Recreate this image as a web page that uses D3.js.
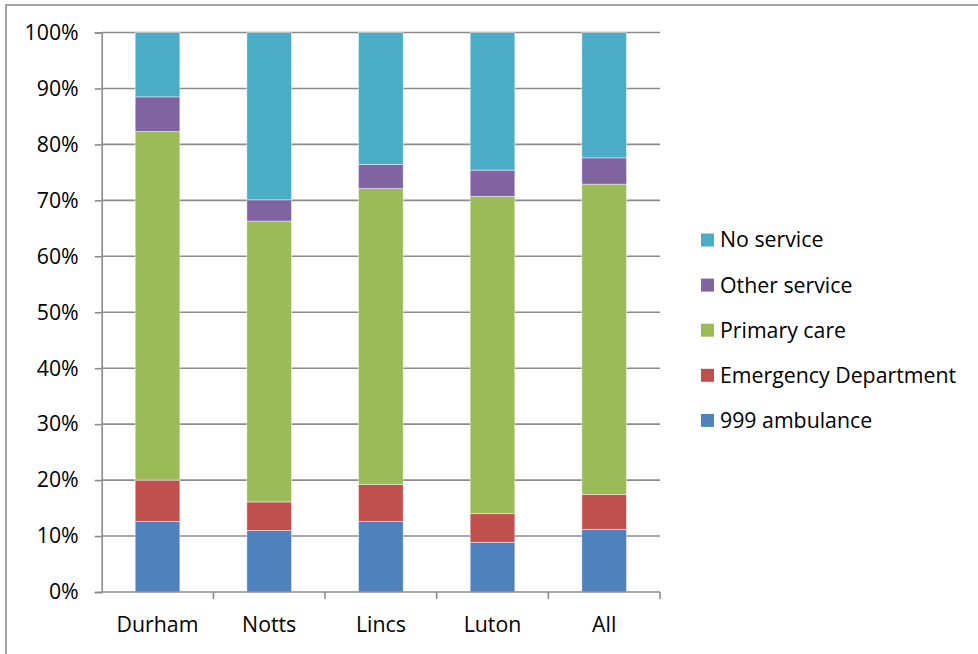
<!DOCTYPE html>
<html>
<head>
<meta charset="utf-8">
<script src="https://cdn.jsdelivr.net/npm/d3@7"></script>
<style>
  html, body { margin: 0; padding: 0; background: #fff; }
  svg { display: block; }
  text { font-family: "Open Sans", Lato, sans-serif; fill: #000; }
</style>
</head>
<body>
<svg id="chart" width="978" height="654"></svg>
<script>
// Share of callers by where they went next, per area
const categories = ["Durham", "Notts", "Lincs", "Luton", "All"];
const seriesNames = ["999 ambulance", "Emergency Department", "Primary care", "Other service", "No service"];
const ambulance   = [12.6, 11.0, 12.6,  8.9, 11.2];
const emergency   = [ 7.4,  5.1,  6.6,  5.1,  6.2];
const primaryCare = [62.3, 50.2, 52.9, 56.7, 55.5];
const otherSvc    = [ 6.2,  3.8,  4.3,  4.7,  4.7];
const noService   = [11.5, 29.9, 23.6, 24.6, 22.4];
const yTicks = [0, 10, 20, 30, 40, 50, 60, 70, 80, 90, 100];
const colors = ["#4F81BD", "#C0504D", "#9BBB59", "#8064A2", "#4BACC6"];

const seriesValues = [ambulance, emergency, primaryCare, otherSvc, noService];
const rows = categories.map((c, i) => {
  const r = { category: c };
  seriesNames.forEach((s, k) => { r[s] = seriesValues[k][i]; });
  return r;
});

const FONT = 21.3;
const svg = d3.select("#chart");
const plot = { left: 101.7, right: 660, top: 32.5, bottom: 592 };

// outer chart frame
svg.append("rect")
  .attr("x", 6).attr("y", 5).attr("width", 1000).attr("height", 700)
  .attr("fill", "none").attr("stroke", "#8c8c8c").attr("stroke-width", 1.6);

const x = d3.scaleBand().domain(categories).range([plot.left, plot.right])
  .paddingInner(0.6).paddingOuter(0.3);
const xStep = d3.scaleBand().domain(categories).range([plot.left, plot.right]);
const y = d3.scaleLinear().domain([0, 100]).range([plot.bottom, plot.top]);

// horizontal gridlines
svg.append("g").selectAll("line").data(yTicks.filter(t => t > 0)).join("line")
  .attr("x1", plot.left).attr("x2", plot.right)
  .attr("y1", d => y(d)).attr("y2", d => y(d))
  .attr("stroke", "#8c8c8c").attr("stroke-width", 1.6);

// stacked bars
const stacked = d3.stack().keys(seriesNames)(rows);
svg.append("g").selectAll("g").data(stacked).join("g")
  .attr("fill", (d, i) => colors[i])
  .selectAll("rect").data(d => d).join("rect")
  .attr("x", d => x(d.data.category))
  .attr("width", x.bandwidth())
  .attr("y", d => y(d[1]))
  .attr("height", d => y(d[0]) - y(d[1]))
  .attr("stroke", "rgba(255,255,255,0.55)").attr("stroke-width", 0.8);

// y axis
const yAxis = svg.append("g").attr("transform", `translate(${plot.left},0)`)
  .call(d3.axisLeft(y).tickValues(yTicks).tickFormat(d => d + "%").tickSize(7).tickPadding(16));
yAxis.select(".domain").attr("stroke", "#8c8c8c").attr("stroke-width", 1.6);
yAxis.selectAll(".tick line").attr("stroke", "#8c8c8c").attr("stroke-width", 1.6);
yAxis.selectAll(".tick text").attr("font-size", FONT).attr("font-family", "'Open Sans', sans-serif").attr("fill", "#000");

// x axis with ticks at category boundaries
const xAxis = svg.append("g").attr("transform", `translate(0,${plot.bottom})`);
xAxis.append("line").attr("x1", plot.left).attr("x2", plot.right)
  .attr("stroke", "#8c8c8c").attr("stroke-width", 1.6);
xAxis.selectAll("line.tk").data(categories).join("line").attr("class", "tk")
  .attr("x1", d => xStep(d) + xStep.bandwidth()).attr("x2", d => xStep(d) + xStep.bandwidth())
  .attr("y1", 0).attr("y2", 7).attr("stroke", "#8c8c8c").attr("stroke-width", 1.6);
xAxis.selectAll("text").data(categories).join("text")
  .attr("x", d => xStep(d) + xStep.bandwidth() / 2).attr("y", 40)
  .attr("text-anchor", "middle").attr("font-size", FONT).text(d => d);

// legend, listed top-down from the last series
const legend = svg.append("g").selectAll("g").data(seriesNames.slice().reverse()).join("g")
  .attr("transform", (d, i) => `translate(701,${240 + i * 45.1})`);
legend.append("rect").attr("x", 0).attr("y", -6.5).attr("width", 13).attr("height", 13)
  .attr("fill", d => colors[seriesNames.indexOf(d)]);
legend.append("text").attr("x", 19).attr("y", 0).attr("dy", "0.35em")
  .attr("font-size", FONT).text(d => d);
</script>
</body>
</html>
